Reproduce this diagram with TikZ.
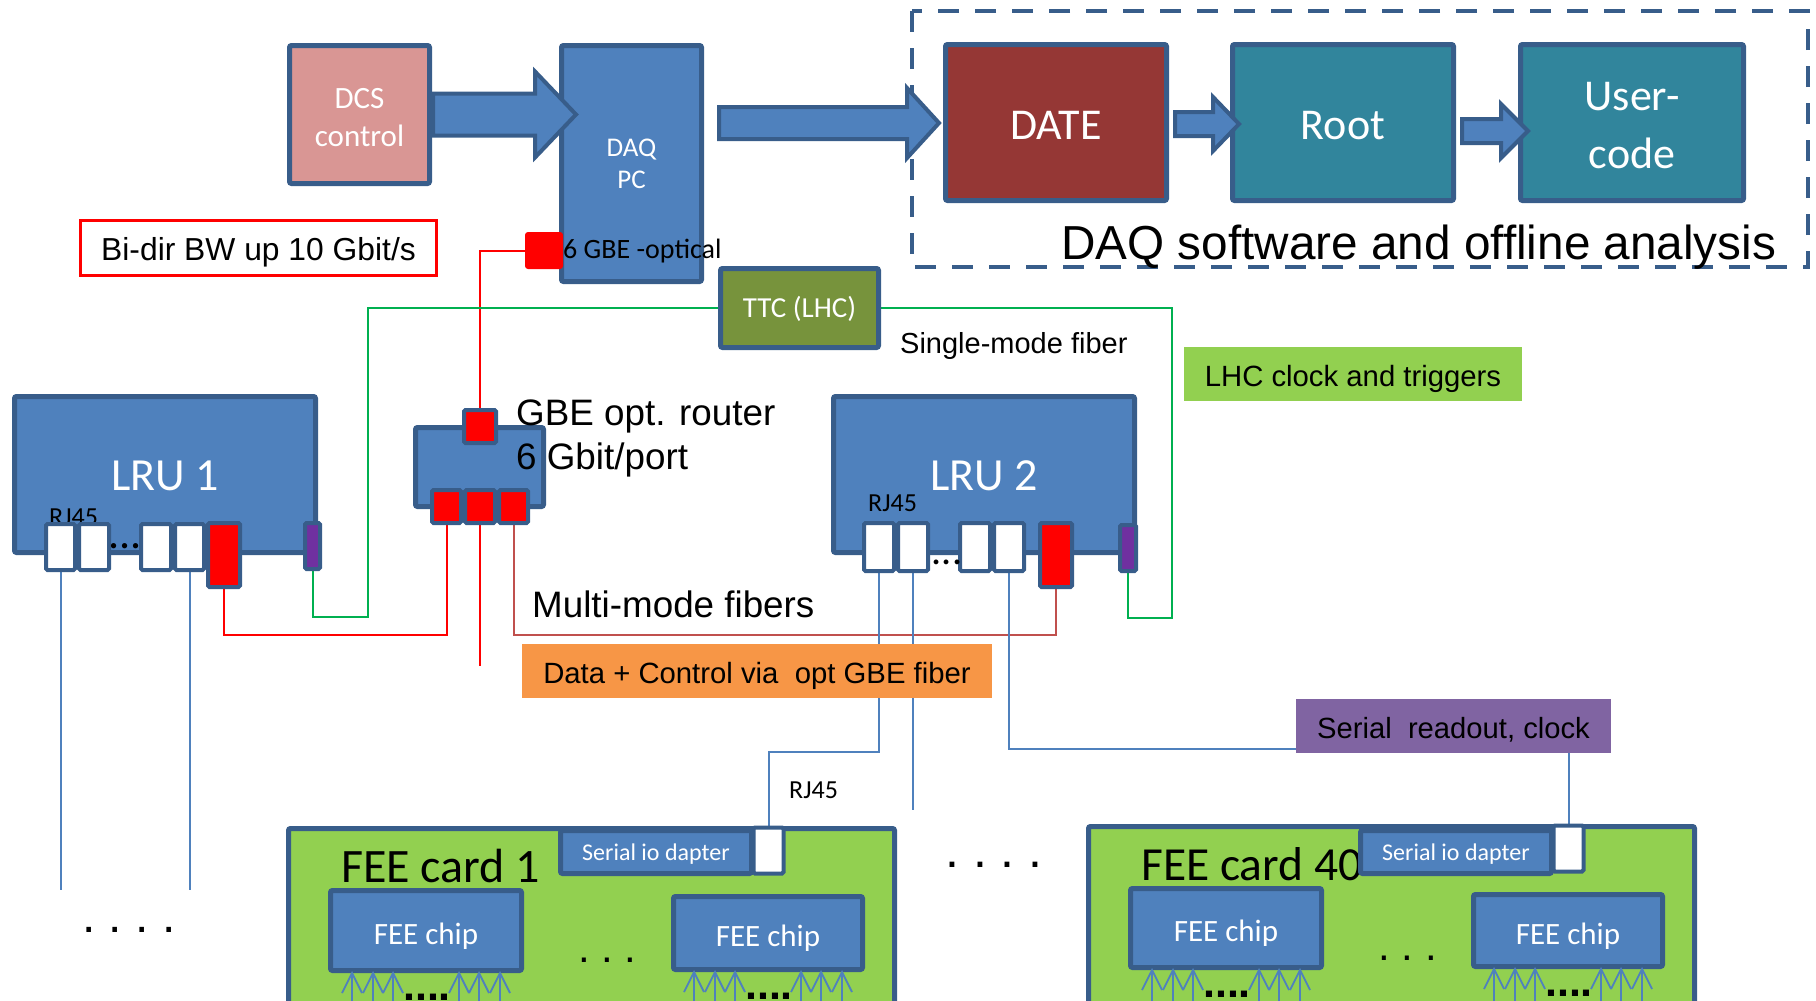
\documentclass[tikz,border=0pt]{standalone}
\usepackage{fontspec}
\setmainfont{Carlito}
\newfontfamily\arialf{Liberation Sans}
\usetikzlibrary{calc}
\pgfdeclarelayer{bg}
\pgfsetlayers{bg,main}
\definecolor{bord}{HTML}{385D8A}
\definecolor{blu}{HTML}{4F81BD}
\definecolor{dcsc}{HTML}{D99694}
\definecolor{datec}{HTML}{953735}
\definecolor{tealc}{HTML}{31859C}
\definecolor{olivec}{HTML}{77933C}
\definecolor{lgreen}{HTML}{92D050}
\definecolor{orangec}{HTML}{F79646}
\definecolor{purpbox}{HTML}{8064A2}
\definecolor{purpport}{HTML}{7030A0}
\definecolor{greenl}{HTML}{00B050}
\definecolor{brownl}{HTML}{C0504D}
\newcommand{\blockarrow}[6]{%
  \draw[barrow] (#1,#4-#5) -- (#2,#4-#5) -- (#2,#4-#6) -- (#3,#4) -- (#2,#4+#6) -- (#2,#4+#5) -- (#1,#4+#5) -- cycle;}
\newcommand{\fsz}[2]{\fontsize{#1}{#2}\selectfont}
\begin{document}
\begin{tikzpicture}[x=1pt,y=-1pt,
  bx/.style={draw=bord, line width=5pt, rounded corners=2pt, inner sep=0pt, align=center, text=white},
  port/.style={draw=bord, line width=4pt, rounded corners=1.5pt, inner sep=0pt},
  barrow/.style={fill=blu, draw=bord, line width=4pt, line join=miter},
  lbl/.style={inner sep=0pt, anchor=base west},
  wtxt/.style={inner sep=0pt, align=center, text=white},
  tagbox/.style={inner sep=0pt, font=\arialf, text depth=0pt},
  redline/.style={draw=red, line width=2pt},
  brownline/.style={draw=brownl, line width=2pt},
  greenline/.style={draw=greenl, line width=2pt},
  blueline/.style={draw=blu, line width=2pt},
  chiparrow/.style={draw=blu, line width=1.8pt},
]
\path[use as bounding box] (0,0) rectangle (1816,1001);
\clip (0,0) rectangle (1816,1001);

% dashed software frame
\draw[draw=bord, line width=4pt, dash pattern=on 21pt off 16pt] (912,11) rectangle (1808,267);

% top row
\node[bx, fill=dcsc, minimum width=140pt, minimum height=138pt] (dcs) at (359.5,114.5) {};
\node[wtxt, font=\fsz{31}{38.5}] (dcstxt) at ($(dcs.center)+(0,3)$) {DCS\\control};
\node[bx, fill=blu, minimum width=140pt, minimum height=236pt, font=\fsz{27}{32}] (daq) at (631.5,163.5) {DAQ\\PC};
\node[bx, fill=datec, minimum width=221pt, minimum height=156pt, font=\fsz{44}{54}, text height=33pt, text depth=0pt] (date) at (1056,122.5) {DATE};
\node[bx, fill=tealc, minimum width=221pt, minimum height=156pt, font=\fsz{44}{54}, text height=33pt, text depth=0pt] (root) at (1343,122.5) {Root};
\node[bx, fill=tealc, minimum width=223pt, minimum height=156pt] (user) at (1632,122.5) {};
\node[wtxt, font=\fsz{44}{58}] (usertxt) at ($(user.center)+(0,3.5)$) {User-\\code};
\node[lbl, font=\arialf\fsz{47.7}{56}] (swlbl) at (1061,259) {DAQ software and offline analysis};

% block arrows
\blockarrow{433}{535}{576}{114.5}{21}{43}
\blockarrow{719}{907}{939}{123}{16}{35}
\blockarrow{1175}{1213}{1239}{124}{12}{27}
\blockarrow{1462}{1501}{1528}{131}{12}{27}

% DAQ optical port
\node[fill=red, rounded corners=3pt, minimum width=38pt, minimum height=37pt, inner sep=0pt] (dq) at (544,250.5) {};
\node[lbl, font=\fsz{28}{32}] (optlbl) at (563,258) {6 GBE -optical};

% bandwidth label
\node[draw=red, line width=2.5pt, fill=white, minimum width=356pt, minimum height=55pt, tagbox, text height=25pt, font=\arialf\fsz{31.8}{38}] (bw) at (258.5,248) {Bi-dir BW up 10 Gbit/s};

% TTC
\node[bx, fill=olivec, minimum width=158pt, minimum height=79pt, font=\fsz{29}{34}, text height=18.7pt, text depth=0pt] (ttc) at (799.5,308) {TTC (LHC)};
\node[lbl, font=\arialf\fsz{29}{35}] (smf) at (900,353) {Single-mode fiber};
\node[fill=lgreen, minimum width=338pt, minimum height=54pt, tagbox, text height=25pt, font=\arialf\fsz{29.3}{34}] (lhc) at (1353,374) {LHC clock and triggers};

% router
\node[bx, fill=blu, minimum width=128pt, minimum height=79pt] (router) at (479.5,467) {};
\node[port, fill=red, minimum width=32pt, minimum height=33pt] (rt) at (480,426.5) {};
\node[port, fill=red, minimum width=29pt, minimum height=33pt] (rb1) at (446.5,506.5) {};
\node[port, fill=red, minimum width=30pt, minimum height=33pt] (rb2) at (480,506.5) {};
\node[port, fill=red, minimum width=29pt, minimum height=33pt] (rb3) at (513.5,506.5) {};
\node[lbl, font=\arialf\fsz{36.8}{44}] (rlbl1) at (516,425) {GBE opt. router};
\node[lbl, font=\arialf\fsz{36.8}{44}] (rlbl2) at (516,469) {6 Gbit/port};

% LRU 1
\node[bx, fill=blu, minimum width=301pt, minimum height=156pt, font=\fsz{46}{54}, text height=31.6pt, text depth=0pt] (lru1) at (165,474.5) {LRU 1};
\node[lbl, font=\fsz{26}{30}] (rj1) at (49,525) {RJ45};
\node[port, fill=white, minimum width=29pt, minimum height=46pt] (p11) at (60.5,547) {};
\node[port, fill=white, minimum width=30pt, minimum height=46pt] (p12) at (94,547) {};
\node[port, fill=white, minimum width=30pt, minimum height=46pt] (p13) at (156,547) {};
\node[port, fill=white, minimum width=29pt, minimum height=46pt] (p14) at (189.5,547) {};
\node[port, fill=red, minimum width=32pt, minimum height=64pt] (r1) at (224,555) {};
\node[port, fill=purpport, minimum width=15pt, minimum height=46pt] (u1) at (312.5,546) {};
\node[inner sep=0pt, anchor=base, font=\fsz{44}{50}] (d1) at (125,548) {...};

% LRU 2
\node[bx, fill=blu, minimum width=301pt, minimum height=156pt, font=\fsz{46}{54}, text height=31.6pt, text depth=0pt] (lru2) at (984,474.5) {LRU 2};
\node[lbl, font=\fsz{26}{30}] (rj2) at (868,511) {RJ45};
\node[port, fill=white, minimum width=30pt, minimum height=48pt] (q1) at (879,547) {};
\node[port, fill=white, minimum width=30pt, minimum height=48pt] (q2) at (913,547) {};
\node[port, fill=white, minimum width=30pt, minimum height=48pt] (q3) at (975,547) {};
\node[port, fill=white, minimum width=30pt, minimum height=48pt] (q4) at (1009,547) {};
\node[port, fill=red, minimum width=32pt, minimum height=64pt] (r2) at (1056,555) {};
\node[port, fill=purpport, minimum width=16pt, minimum height=46pt] (u2) at (1128,548) {};
\node[inner sep=0pt, anchor=base, font=\fsz{40}{50}] (d2) at (947,564) {...};

% labels in the middle
\node[lbl, font=\arialf\fsz{36.8}{42}] (mmf) at (532,617) {Multi-mode fibers};
\node[fill=orangec, minimum width=470pt, minimum height=54pt, tagbox, text height=25pt, font=\arialf\fsz{29.3}{33}] (datactl) at (757,671) {Data + Control via\ \ opt GBE fiber};
\node[fill=purpbox, minimum width=315pt, minimum height=54pt, tagbox, text height=24pt, font=\arialf\fsz{29.2}{33}] (serro) at (1453.5,726) {Serial\ \ readout, clock};
\node[lbl, font=\fsz{26}{30}] (rj3) at (789,798) {RJ45};

% dots
\node[inner sep=0pt, anchor=base, font=\arialf\fsz{48}{50}] (dl) at (129,932) {.\ .\ .\ .};
\node[inner sep=0pt, anchor=base, font=\arialf\fsz{50}{50}] (dm) at (994,867) {.\ .\ .\ .};

% FEE card 1
\node[bx, fill=lgreen, minimum width=606pt, minimum height=189pt] (fc1) at (591.5,923) {};
\node[lbl, font=\fsz{48}{54}] (fc1lbl) at (341,882) {FEE card 1};
\node[bx, fill=blu, minimum width=191pt, minimum height=43pt, font=\fsz{24}{28}, text height=17.5pt, text depth=0pt] (sa1) at (656,852) {Serial io dapter};
\node[port, fill=white, minimum width=30pt, minimum height=46pt] (wp1) at (768.5,850.5) {};
\node[bx, fill=blu, minimum width=191pt, minimum height=80pt, font=\fsz{31}{36}, text height=27pt, text depth=0pt] (c1a) at (426,930.5) {FEE chip};
\node[bx, fill=blu, minimum width=189pt, minimum height=73pt, font=\fsz{31}{36}, text height=27pt, text depth=0pt] (c1b) at (768,933) {FEE chip};
\node[inner sep=0pt, anchor=base, font=\arialf\fsz{42}{50}] (dc1) at (607.5,962) {.\ .\ .};

% FEE card 40
\node[bx, fill=lgreen, minimum width=606pt, minimum height=191pt] (fc40) at (1391.5,922) {};
\node[lbl, font=\fsz{47.5}{54}] (fc40lbl) at (1141,880) {FEE card 40};
\node[bx, fill=blu, minimum width=191pt, minimum height=43pt, font=\fsz{24}{28}, text height=17.5pt, text depth=0pt] (sa40) at (1456,852) {Serial io dapter};
\node[port, fill=white, minimum width=30pt, minimum height=46pt] (wp40) at (1568.5,848.5) {};
\node[bx, fill=blu, minimum width=191pt, minimum height=79pt, font=\fsz{31}{36}, text height=27pt, text depth=0pt] (c40a) at (1226,928) {FEE chip};
\node[bx, fill=blu, minimum width=189pt, minimum height=72pt, font=\fsz{31}{36}, text height=27pt, text depth=0pt] (c40b) at (1568,930.5) {FEE chip};
\node[inner sep=0pt, anchor=base, font=\arialf\fsz{42}{50}] (dc40) at (1407.5,960) {.\ .\ .};

% input arrows under chips
\foreach \c in {c1a,c1b,c40a,c40b}{
  \foreach \dx in {-74,-53,-33,33,53,74}{
    \draw[chiparrow] ($(\c.south)+(\dx,40)$) -- ($(\c.south)+(\dx,0)$);
    \draw[chiparrow, line join=miter] ($(\c.south)+(\dx-10,20)$) -- ($(\c.south)+(\dx,0)$) -- ($(\c.south)+(\dx+10,20)$);
  }
  \node[inner sep=0pt, anchor=base, font=\arialf\bfseries\fsz{43}{50}] at ($(\c.south)+(1,27)$) {....};
}

% connectors (behind)
\coordinate (gL) at (368,308);
\coordinate (gR) at (1172,308);
\begin{pgfonlayer}{bg}
  \draw[redline] (dq.west) -| (rt.north);
  \draw[redline] (r1.south) -- ++(0,46) -| (rb1.south);
  \draw[redline] (rb2.south) -- ++(0,141);
  \draw[brownline] (rb3.south) -- ++(0,110) -| (r2.south);
  \draw[greenline] (u1.south) -- ++(0,46) -| (gL) -- (ttc.west);
  \draw[greenline] (ttc.east) -- (gR) |- ($(u2.south)+(0,45)$) -- (u2.south);
  \draw[blueline] (p11.south) -- ++(0,318);
  \draw[blueline] (p14.south) -- ++(0,318);
  \draw[blueline] (q1.south) -- ++(0,179) -| (wp1.north);
  \draw[blueline] (q2.south) -- ++(0,237);
  \draw[blueline] (q4.south) -- ++(0,176) -| (wp40.north);
\end{pgfonlayer}
\end{tikzpicture}
\end{document}
